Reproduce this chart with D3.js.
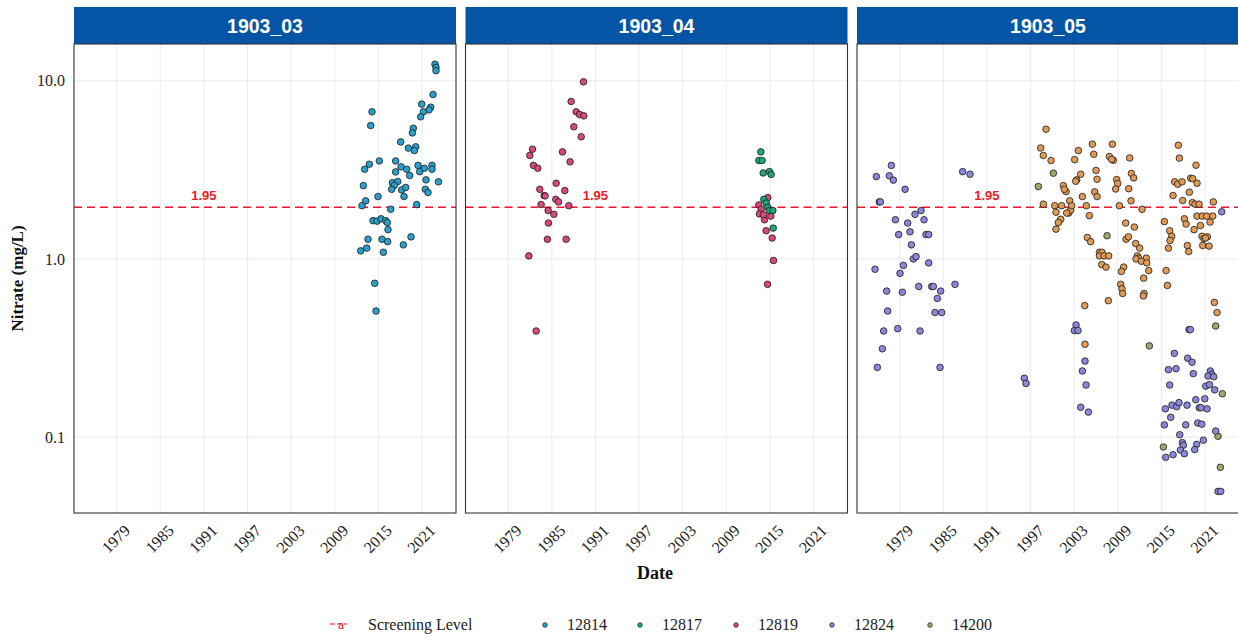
<!DOCTYPE html>
<html>
<head>
<meta charset="utf-8">
<script src="https://cdn.jsdelivr.net/npm/d3@7"></script>
<style>
  html, body { margin: 0; padding: 0; background: #fff; }
  svg { display: block; }
</style>
</head>
<body>
<svg id="chart" width="1238" height="640"></svg>
<script>
// Well panels and station samples: [decimal year, nitrate mg/L]
const panels = ["1903_03", "1903_04", "1903_05"];
const stations = ["12814", "12817", "12819", "12824", "14200"];
const yTicks = [0.1, 1.0, 10.0];
const xTicks = [1979, 1985, 1991, 1997, 2003, 2009, 2015, 2021];
const screeningLevel = 1.95;

const s12814 = [
  [2022.78,12.4],[2022.92,11.9],[2022.92,11.4],[2022.51,8.38],[2020.95,7.40],[2022.19,7.11],
  [2021.96,6.87],[2021.18,6.70],[2020.81,6.28],[2014.12,6.70],[2013.94,5.61],[2018.06,4.54],
  [2019.80,5.42],[2019.67,5.10],[2019.12,4.19],[2020.13,4.26],[2019.94,4.06],[2013.75,3.40],
  [2013.11,3.19],[2015.13,3.55],[2017.37,3.55],[2017.37,3.08],[2018.11,3.29],[2018.89,3.19],
  [2019.30,2.94],[2020.45,3.35],[2020.68,3.09],[2021.32,3.23],[2022.37,3.35],[2022.37,3.19],
  [2021.55,2.78],[2023.25,2.71],[2012.93,2.58],[2016.92,2.68],[2017.65,2.72],[2017.19,2.59],
  [2016.82,2.46],[2018.20,2.44],[2018.75,2.52],[2018.52,2.24],[2014.94,2.24],[2021.46,2.46],
  [2021.82,2.36],[2020.27,2.02],[2013.25,2.12],[2012.74,1.99],[2016.69,1.90],[2014.26,1.64],
  [2014.81,1.63],[2015.36,1.68],[2016.00,1.64],[2016.23,1.60],[2016.32,1.46],[2013.57,1.29],
  [2015.49,1.29],[2016.27,1.25],[2019.48,1.33],[2018.43,1.20],[2012.56,1.11],[2013.39,1.15],
  [2015.68,1.09],[2014.49,0.73],[2014.67,0.51]
];

const s12817 = [
  [2013.75,3.99],[2013.47,3.57],[2013.93,3.57],[2014.07,3.04],[2014.94,3.09],[2015.17,2.98],
  [2014.16,2.16],[2014.48,2.06],[2014.71,1.95],[2014.94,1.87],[2015.40,1.87],[2015.45,1.49]
];

const s12819 = [
  [1989.36,9.87],[1987.66,7.66],[1988.35,6.70],[1988.81,6.47],[1989.40,6.36],[1988.03,5.52],
  [1989.04,4.85],[1982.34,4.13],[1981.97,3.81],[1986.47,3.99],[1982.48,3.35],[1983.07,3.23],
  [1987.52,3.51],[1985.60,2.66],[1983.35,2.46],[1986.79,2.42],[1983.95,2.27],[1984.08,2.26],
  [1985.55,2.16],[1985.92,2.09],[1983.53,2.02],[1987.34,1.99],[1984.50,1.87],[1985.28,1.78],
  [1984.54,1.59],[1984.40,1.29],[1986.97,1.29],[1981.84,1.04],[1982.85,0.394],
  [2013.47,2.01],[2013.79,1.90],[2014.71,2.21],[2013.56,1.79],[2014.25,1.66],[2015.12,1.74],
  [2014.11,1.77],[2014.48,1.44],[2015.31,1.31],[2015.49,0.98],[2014.67,0.72]
];

const s12824 = [
  [1975.79,2.90],[1977.86,3.35],[1977.58,2.93],[1978.13,2.77],[1979.74,2.46],[1976.20,2.09],
  [1976.34,2.09],[1981.94,1.87],[1981.11,1.78],[1978.41,1.66],[1982.35,1.66],[1980.10,1.59],
  [1980.42,1.42],[1978.86,1.37],[1982.62,1.37],[1982.99,1.37],[1980.61,1.20],[1980.88,1.00],
  [1981.25,1.03],[1979.51,0.92],[1979.05,0.83],[1982.99,0.95],[1975.61,0.875],[1977.21,0.66],
  [1979.37,0.65],[1981.62,0.70],[1983.40,0.70],[1983.63,0.70],[1984.64,0.66],[1984.18,0.60],
  [1986.61,0.72],[1977.35,0.51],[1983.86,0.50],[1984.78,0.50],[1987.67,3.09],[1988.68,2.99],
  [2023.29,1.84],
  [1976.80,0.394],[1978.73,0.406],[1981.80,0.394],[1976.62,0.313],[1975.93,0.246],[1984.55,0.246],
  [1996.15,0.214],[1996.38,0.200],[2003.26,0.426],[2003.03,0.396],[2003.53,0.396],[2004.49,0.267],
  [2004.13,0.235],[2004.63,0.196],[2003.90,0.147],[2004.95,0.138],
  [2018.80,0.401],[2018.98,0.401],[2016.78,0.295],[2018.61,0.277],[2019.21,0.263],[2015.96,0.239],
  [2017.01,0.242],[2019.39,0.227],[2021.73,0.235],[2021.92,0.225],[2021.41,0.220],[2022.19,0.218],
  [2016.14,0.196],[2021.09,0.193],[2021.60,0.197],[2022.33,0.184],[2015.54,0.144],[2016.46,0.151],
  [2017.10,0.148],[2017.42,0.156],[2018.52,0.151],[2019.72,0.162],[2020.96,0.164],[2020.22,0.146],
  [2020.45,0.146],[2021.28,0.144],[2016.28,0.129],[2015.41,0.117],[2018.34,0.117],[2019.99,0.120],
  [2020.54,0.118],[2017.52,0.103],[2017.88,0.093],[2018.02,0.090],[2019.85,0.091],[2020.77,0.096],
  [2017.61,0.0845],[2018.16,0.0806],[2019.58,0.085],[2015.59,0.0769],[2016.60,0.0796],
  [2022.47,0.108],[2022.79,0.0495],[2023.16,0.0495]
];

const s14200 = [
  [1999.13,5.35],[1998.40,4.20],[1998.76,3.81],[1999.82,3.57],[1998.76,2.03],[2000.32,1.99],
  [2000.50,1.83],[2001.28,1.99],[2001.51,2.58],[2001.88,2.39],[2001.65,2.46],[2002.38,2.12],
  [2002.25,1.81],[2002.52,1.88],[2002.66,1.99],[2001.97,1.81],[2001.15,1.67],[2000.83,1.60],
  [2000.50,1.47],[2003.07,3.61],[2003.58,4.06],[2003.35,2.78],[2003.90,2.99],[2003.21,2.73],
  [2004.13,2.24],[2004.68,1.99],[2005.09,1.75],[2005.50,4.41],[2005.69,3.87],[2006.01,3.14],
  [2006.15,2.80],[2005.82,2.38],[2006.15,2.24],[2008.25,4.41],[2007.84,3.76],[2008.39,3.58],
  [2008.16,3.62],[2010.64,3.69],[2010.87,3.02],[2011.19,2.85],[2008.85,2.79],[2008.99,2.65],
  [2008.71,2.47],[2010.50,2.48],[2010.82,2.12],[2009.22,1.99],[2012.33,1.90],[2004.81,1.32],
  [2005.27,1.25],[2010.09,1.59],[2011.28,1.51],[2010.14,1.29],[2010.46,1.33],[2011.46,1.22],
  [2012.01,1.15],[2006.47,1.09],[2006.83,1.09],[2006.47,1.04],[2007.11,1.04],[2007.75,1.04],
  [2011.69,1.04],[2011.87,1.01],[2011.51,1.00],[2012.93,1.01],[2012.24,0.97],[2012.98,0.95],
  [2006.79,0.93],[2007.38,0.90],[2009.81,0.90],[2009.49,0.85],[2013.25,0.86],[2012.56,0.78],
  [2009.40,0.72],[2009.58,0.68],[2009.67,0.64],[2012.61,0.64],[2012.52,0.62],[2004.45,0.547],
  [2007.70,0.583],[2004.49,0.332],
  [2017.33,4.35],[2017.47,3.68],[2019.76,3.36],[2016.83,2.71],[2017.24,2.63],[2017.84,2.71],
  [2019.03,2.84],[2019.30,2.82],[2019.90,2.66],[2018.84,2.37],[2016.60,2.27],[2017.93,2.13],
  [2019.26,2.07],[2019.62,2.03],[2020.17,2.03],[2022.14,2.09],[2019.90,1.74],[2020.63,1.74],
  [2021.23,1.74],[2022.06,1.74],[2021.69,1.61],[2018.16,1.68],[2018.39,1.57],[2020.36,1.54],
  [2019.49,1.46],[2015.41,1.62],[2016.14,1.44],[2016.42,1.34],[2016.19,1.27],[2015.96,1.15],
  [2018.57,1.19],[2018.75,1.10],[2020.59,1.34],[2020.86,1.30],[2021.32,1.33],[2021.05,1.31],
  [2020.68,1.19],[2021.55,1.18],[2015.64,0.86],[2015.82,0.71],[2022.28,0.57],[2022.65,0.50]
];

// 14200 field duplicates, drawn in a duller shade
const s14200Dup = [
  [1998.07,2.55],[2000.14,3.03],[2007.52,1.35],[2013.34,0.325],[2015.27,0.0879],
  [2022.47,0.420],[2023.38,0.175],[2022.79,0.101],[2023.11,0.0676]
];

const stationColors = ["#2a9fc9", "#1fa77a", "#d9487b", "#8b87d9", "#e09a58"];
const dupColor = "#a3a66c";

// layer order per panel
const layers = [
  [{ data: s12814, color: stationColors[0] }],
  [{ data: s12819, color: stationColors[2] }, { data: s12817, color: stationColors[1] }],
  [{ data: s14200, color: stationColors[4] }, { data: s14200Dup, color: dupColor }, { data: s12824, color: stationColors[3] }]
];

const svg = d3.select("#chart");
const panelW = 382, panelTop = 44, panelBottom = 513, stripTop = 7;
const panelLefts = [74, 465.5, 857];

const y = d3.scaleLog().domain([0.03745, 16.1]).range([panelBottom, panelTop]);
const serif = "'Liberation Serif', 'Times New Roman', serif";
const sans = "'Liberation Sans', Arial, sans-serif";

panels.forEach((name, i) => {
  const left = panelLefts[i];
  const x = d3.scaleLinear().domain([1973.13, 2025.67]).range([left, left + panelW]);
  const g = svg.append("g");

  // strip
  g.append("rect").attr("x", left).attr("y", stripTop).attr("width", panelW)
    .attr("height", panelTop - stripTop).attr("fill", "#0455a6");
  g.append("text").attr("x", left + panelW / 2).attr("y", (stripTop + panelTop) / 2 + 7)
    .attr("text-anchor", "middle").attr("fill", "#fff")
    .style("font-family", sans).style("font-weight", "bold").style("font-size", "19.5px")
    .text(name);

  // grid
  g.selectAll(".gx").data(xTicks).join("line")
    .attr("x1", d => x(d)).attr("x2", d => x(d))
    .attr("y1", panelTop).attr("y2", panelBottom)
    .attr("stroke", "#ebebeb").attr("stroke-width", 1);
  g.selectAll(".gy").data(yTicks).join("line")
    .attr("x1", left).attr("x2", left + panelW)
    .attr("y1", d => y(d)).attr("y2", d => y(d))
    .attr("stroke", "#ebebeb").attr("stroke-width", 1);

  // screening level
  g.append("line").attr("x1", left).attr("x2", left + panelW)
    .attr("y1", y(screeningLevel)).attr("y2", y(screeningLevel))
    .attr("stroke", "#ee1530").attr("stroke-width", 1.5).attr("stroke-dasharray", "8,5");
  g.append("text").attr("x", x(1991)).attr("y", y(screeningLevel) - 7)
    .attr("text-anchor", "middle").attr("fill", "#ee1a26")
    .style("font-family", sans).style("font-weight", "bold").style("font-size", "13px")
    .text(screeningLevel.toFixed(2));

  // points
  layers[i].forEach(layer => {
    g.append("g").selectAll("circle").data(layer.data).join("circle")
      .attr("cx", d => x(d[0])).attr("cy", d => y(d[1])).attr("r", 3.3)
      .attr("fill", layer.color).attr("stroke", "#1a1a1a").attr("stroke-width", 0.8);
  });

  // border
  g.append("rect").attr("x", left).attr("y", panelTop).attr("width", panelW)
    .attr("height", panelBottom - panelTop).attr("fill", "none")
    .attr("stroke", "#333").attr("stroke-width", 1.1);

  // x tick labels
  g.selectAll(".xt").data(xTicks).join("text")
    .attr("transform", d => `translate(${x(d) + 6},${panelBottom + 10}) rotate(-45)`)
    .attr("text-anchor", "end").attr("dy", "0.75em")
    .attr("fill", "#222")
    .style("font-family", serif).style("font-size", "16px")
    .text(d => d);
});

// y tick labels
svg.selectAll(".yt").data(yTicks).join("text")
  .attr("x", 65).attr("y", d => y(d)).attr("dy", "0.35em")
  .attr("text-anchor", "end").attr("fill", "#222")
  .style("font-family", serif).style("font-size", "16px")
  .text(d => d.toFixed(1));

// axis titles
svg.append("text")
  .attr("transform", `translate(23,${(panelTop + panelBottom) / 2}) rotate(-90)`)
  .attr("text-anchor", "middle").attr("fill", "#111")
  .style("font-family", serif).style("font-weight", "bold").style("font-size", "17px")
  .text("Nitrate (mg/L)");
svg.append("text").attr("x", 655).attr("y", 579)
  .attr("text-anchor", "middle").attr("fill", "#111")
  .style("font-family", serif).style("font-weight", "bold").style("font-size", "18px")
  .text("Date");

// legend
const legY = 625;
const leg = svg.append("g");
leg.append("line").attr("x1", 330).attr("x2", 347).attr("y1", legY - 1).attr("y2", legY - 1)
  .attr("stroke", "#e3112d").attr("stroke-width", 1.2).attr("stroke-dasharray", "5,2");
leg.append("text").attr("x", 341).attr("y", legY + 4).attr("text-anchor", "middle")
  .attr("fill", "#e3112d").style("font-family", sans).style("font-size", "11px").text("a");
leg.append("text").attr("x", 368).attr("y", legY + 5).attr("fill", "#222")
  .style("font-family", serif).style("font-size", "16px").text("Screening Level");

const legX = [545, 640, 736, 832, 930];
stations.forEach((s, i) => {
  leg.append("circle").attr("cx", legX[i]).attr("cy", legY).attr("r", 2.3)
    .attr("fill", i === 4 ? dupColor : stationColors[i]).attr("stroke", "#1a1a1a").attr("stroke-width", 0.7);
  leg.append("text").attr("x", legX[i] + 22).attr("y", legY + 5).attr("fill", "#222")
    .style("font-family", serif).style("font-size", "16px").text(s);
});
</script>
</body>
</html>
